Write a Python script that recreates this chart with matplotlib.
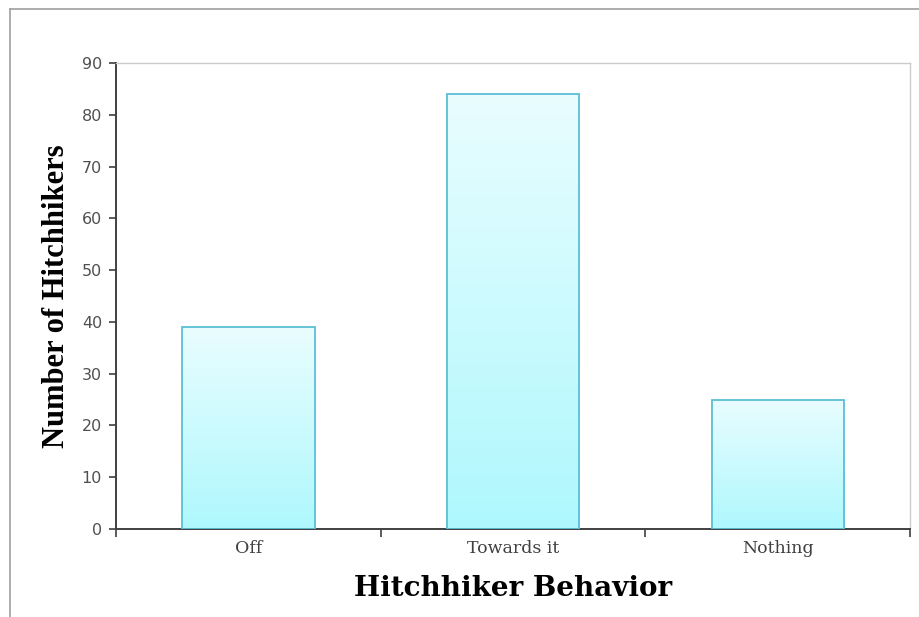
import matplotlib

matplotlib.use("Agg")
import matplotlib.pyplot as plt
import numpy as np
from matplotlib.colors import LinearSegmentedColormap
from matplotlib.lines import Line2D

categories = ["Off", "Towards it", "Nothing"]
counts = [39, 84, 25]
y_ticks = [0, 10, 20, 30, 40, 50, 60, 70, 80, 90]

SERIF = ["Liberation Serif", "DejaVu Serif"]
WIDE_SERIF = ["DejaVu Serif"]
grad = LinearSegmentedColormap.from_list("cyan_fade", ["#aef8fd", "#e9fdff"])

fig = plt.figure(figsize=(9.2, 6.17), dpi=100)
ax = fig.add_axes([116 / 920, 1 - 529 / 617, (910 - 116) / 920, (529 - 63) / 617])

x = np.arange(len(categories))
bars = ax.bar(x, counts, width=0.5, facecolor="none", edgecolor="#5bbfd6", lw=1.3, zorder=3)

# vertical gradient fill clipped to each bar
g = np.linspace(0, 1, 256).reshape(-1, 1)
for b in bars:
    x0, y0 = b.get_x(), b.get_y()
    im = ax.imshow(g, cmap=grad, origin="lower", aspect="auto", zorder=2,
                   extent=[x0, x0 + b.get_width(), y0, y0 + b.get_height()])
    im.set_clip_path(b)

ax.set_xlim(-0.5, len(categories) - 0.5)
ax.set_ylim(0, 90)
ax.set_yticks(y_ticks)
ax.set_xticks(x)
ax.set_xticklabels(categories, family=WIDE_SERIF, fontsize=12.5, color="#404040")
ax.set_xticks(np.arange(-0.5, len(categories)), minor=True)
ax.tick_params(axis="x", which="major", length=0, pad=8)
ax.tick_params(axis="x", which="minor", length=6, width=1.2, color="#404040", direction="out")
ax.tick_params(axis="y", length=5, width=1.2, color="#404040", labelsize=11.5,
               labelcolor="#505050", pad=5)

for side in ("top", "right"):
    ax.spines[side].set_color("#cccccc")
    ax.spines[side].set_linewidth(1)
for side in ("left", "bottom"):
    ax.spines[side].set_color("#404040")
    ax.spines[side].set_linewidth(1.4)

ax.set_ylabel("Number of Hitchhikers", family=SERIF, fontsize=22, fontweight="bold",
              labelpad=8)
ax.set_xlabel("Hitchhiker Behavior", family=WIDE_SERIF, fontsize=20, fontweight="bold",
              labelpad=13)

# outer chart-area frame (top and left edges)
fig.add_artist(Line2D([10 / 920, 1], [1 - 9 / 617, 1 - 9 / 617], color="#a0a0a0", lw=1.2))
fig.add_artist(Line2D([10 / 920, 10 / 920], [0, 1 - 9 / 617], color="#a0a0a0", lw=1.2))

fig.savefig("out.png", dpi=100)
